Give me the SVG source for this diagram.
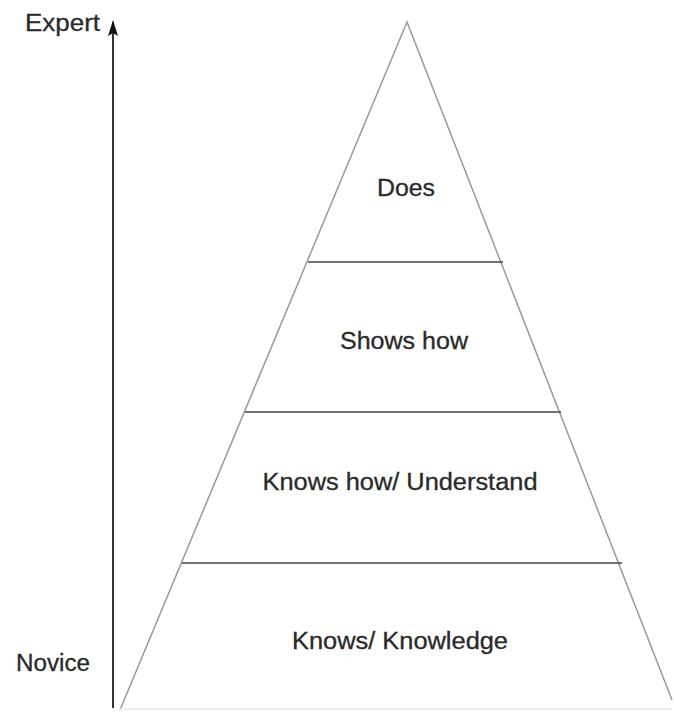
<svg xmlns="http://www.w3.org/2000/svg" width="674" height="714" viewBox="0 0 674 714">
<style>
.lbl{font-family:"Liberation Sans",Arial,sans-serif;font-size:23px;fill:#2a2a2a;stroke:#2a2a2a;stroke-width:0.3}
.side{stroke:#999;stroke-width:1.5;fill:none}
.div{stroke:#444;stroke-width:1.5}
</style>
<defs>
<marker id="ah" viewBox="0 0 16 10" refX="14" refY="5" markerWidth="16" markerHeight="10" orient="auto" markerUnits="userSpaceOnUse">
<path d="M16 5 L0 0 L3 5 L0 10 Z" fill="#111"/>
</marker>
</defs>
<rect width="674" height="714" fill="#fff"/>
<g id="connectors">
<line x1="113" y1="708" x2="113" y2="22" stroke="#333" stroke-width="2" marker-end="url(#ah)"/>
</g>
<g id="pyramid">
<path class="side" d="M120 710 L407 22 L672 700"/>
<line x1="120" y1="709" x2="672" y2="709" stroke="#e4e4e4" stroke-width="1.5"/>
</g>
<g id="tier-does">
<line class="div" x1="308" y1="262" x2="503" y2="262"/>
<text class="lbl" x="406" y="196" text-anchor="middle" textLength="58" lengthAdjust="spacingAndGlyphs">Does</text>
</g>
<g id="tier-shows">
<line class="div" x1="245" y1="412" x2="561" y2="412"/>
<text class="lbl" x="404" y="349" text-anchor="middle" textLength="128" lengthAdjust="spacingAndGlyphs">Shows how</text>
</g>
<g id="tier-knowshow">
<line class="div" x1="182" y1="563" x2="622" y2="563"/>
<text class="lbl" x="400" y="490" text-anchor="middle" textLength="275" lengthAdjust="spacingAndGlyphs">Knows how/ Understand</text>
</g>
<g id="tier-knows">
<text class="lbl" x="400" y="649" text-anchor="middle" textLength="216" lengthAdjust="spacingAndGlyphs">Knows/ Knowledge</text>
</g>
<g id="label-expert">
<text class="lbl" x="25" y="31" textLength="75" lengthAdjust="spacingAndGlyphs">Expert</text>
</g>
<g id="label-novice">
<text class="lbl" x="16" y="671" textLength="74" lengthAdjust="spacingAndGlyphs">Novice</text>
</g>
</svg>
